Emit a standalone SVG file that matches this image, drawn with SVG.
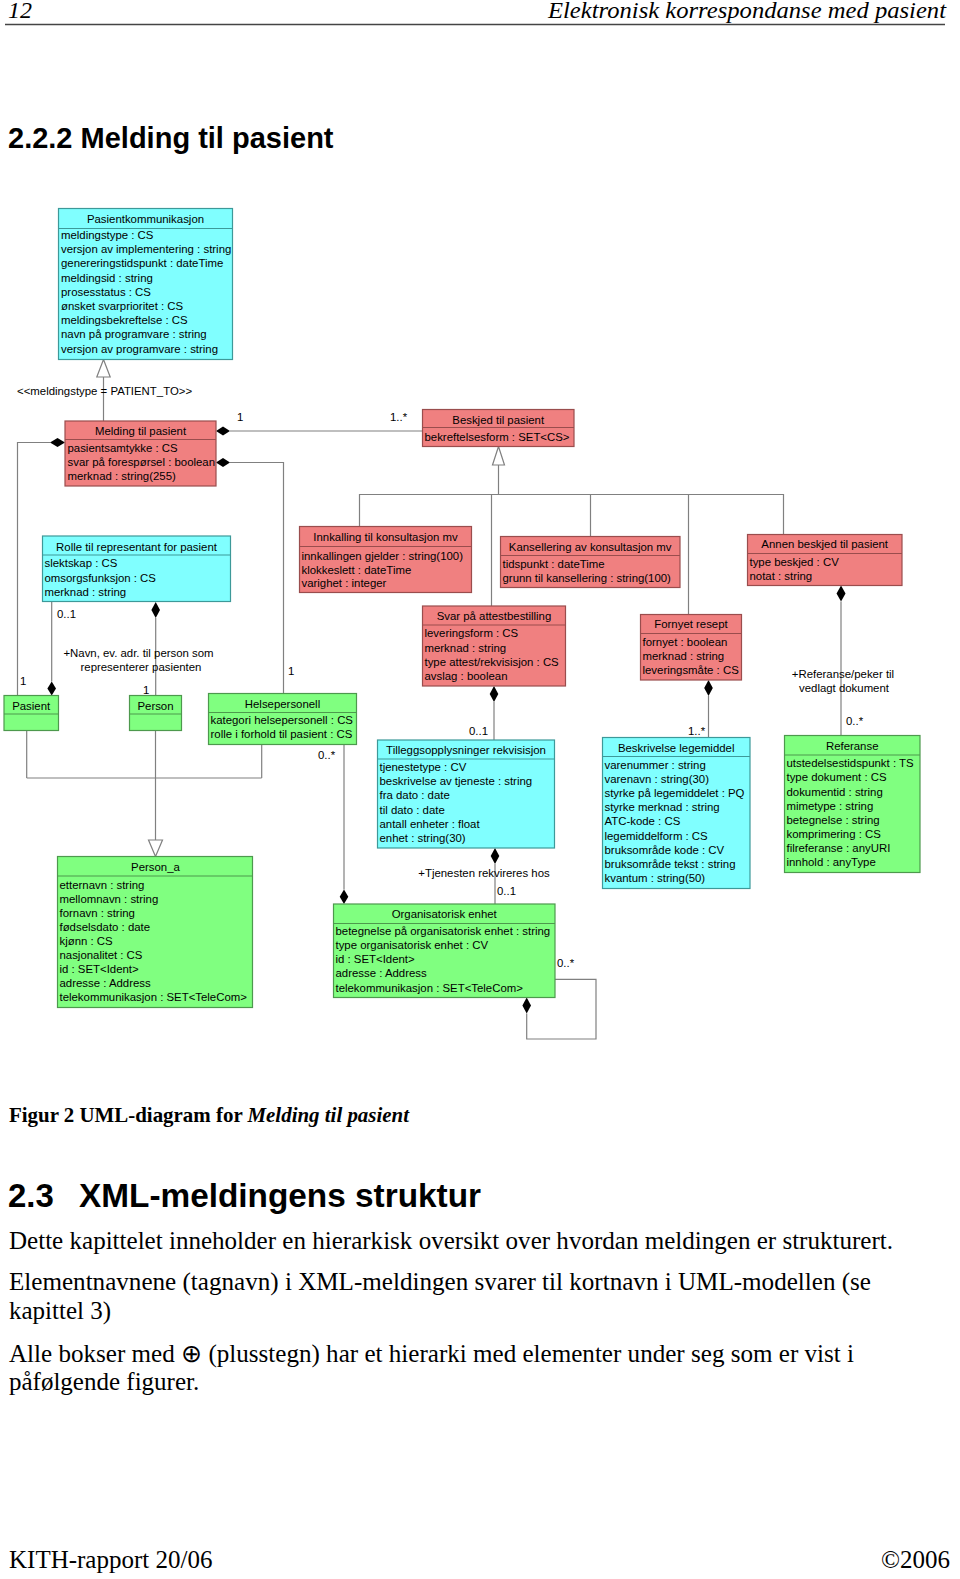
<svg xmlns="http://www.w3.org/2000/svg" width="960" height="1579" viewBox="0 0 960 1579">
<style>
.t{font-family:"Liberation Sans",Arial,sans-serif;font-size:11.4px;fill:#000}
.h{text-anchor:middle}
.red rect{fill:#F08080;stroke:#9a4d4d;stroke-width:1.2}
.cyan rect{fill:#80FFFF;stroke:#3d9999;stroke-width:1.2}
.green rect{fill:#80FF80;stroke:#4d994d;stroke-width:1.2}
.red line{stroke:#9a4d4d;stroke-width:1}
.cyan line{stroke:#3d9999;stroke-width:1}
.green line{stroke:#4d994d;stroke-width:1}
.c{fill:none;stroke:#808080;stroke-width:1.2}
.d{fill:#000;stroke:none}
.g{fill:#fff;stroke:#808080;stroke-width:1.2}
.serif{font-family:"Liberation Serif","Times New Roman",serif;fill:#000}
.sans{font-family:"Liberation Sans",Arial,sans-serif;font-weight:bold;fill:#000}
</style>

<!-- page header -->
<g id="page-header">
<text class="serif" x="8" y="18" font-size="24" font-style="italic">12</text>
<text class="serif" x="946" y="18" font-size="24" font-style="italic" text-anchor="end" textLength="398" lengthAdjust="spacingAndGlyphs">Elektronisk korrespondanse med pasient</text>
<line x1="5" y1="24.5" x2="945" y2="24.5" stroke="#444" stroke-width="1.5"/>
<text class="sans" x="8" y="148" font-size="29">2.2.2 Melding til pasient</text>
</g>

<!-- connectors -->
<g id="connectors">
<!-- generalization Melding -> Pasientkommunikasjon -->
<line class="c" x1="103.5" y1="421" x2="103.5" y2="377"/>
<polygon class="g" points="103.5,359.5 96.8,377 110.2,377"/>
<text class="t" x="17" y="395">&lt;&lt;meldingstype = PATIENT_TO&gt;&gt;</text>
<!-- Melding -> Beskjed -->
<line class="c" x1="230" y1="431" x2="422.5" y2="431"/>
<polygon class="d" points="216,431 223,426.5 230,431 223,435.5"/>
<text class="t" x="237" y="421">1</text>
<text class="t" x="390" y="421">1..*</text>
<!-- Melding -> Pasient -->
<polyline class="c" points="50,442.5 17.5,442.5 17.5,695.5"/>
<polygon class="d" points="65,442.5 57.5,438 50,442.5 57.5,447"/>
<text class="t" x="20" y="685">1</text>
<!-- Melding -> Helsepersonell -->
<polyline class="c" points="230,462.5 283.5,462.5 283.5,693.5"/>
<polygon class="d" points="216,462.5 223,458 230,462.5 223,467"/>
<text class="t" x="288" y="675">1</text>
<!-- generalization Beskjed subclasses -->
<line class="c" x1="498.5" y1="465" x2="498.5" y2="494.5"/>
<polygon class="g" points="498.5,446.5 492.5,465 504.5,465"/>
<polyline class="c" points="359.5,526.5 359.5,494.5 783.5,494.5 783.5,534.5"/>
<line class="c" x1="491.5" y1="494.5" x2="491.5" y2="606"/>
<line class="c" x1="590.5" y1="494.5" x2="590.5" y2="536.5"/>
<line class="c" x1="688.5" y1="494.5" x2="688.5" y2="614.5"/>
<!-- Annen -> Referanse -->
<line class="c" x1="841" y1="601.5" x2="841" y2="735.5"/>
<polygon class="d" points="841,585.5 845.5,593.5 841,601.5 836.5,593.5"/>
<text class="t h" x="843" y="678">+Referanse/peker til</text>
<text class="t h" x="844" y="692">vedlagt dokument</text>
<text class="t" x="846" y="725">0..*</text>
<!-- Rolle -> Pasient -->
<line class="c" x1="51.7" y1="601.5" x2="51.7" y2="681.5"/>
<polygon class="d" points="51.7,681.5 56,688.5 51.7,695.5 47.4,688.5"/>
<text class="t" x="57" y="618">0..1</text>
<!-- Rolle -> Person -->
<line class="c" x1="155.7" y1="618" x2="155.7" y2="695.5"/>
<polygon class="d" points="155.7,602 160,610 155.7,618 151.4,610"/>
<text class="t" x="143" y="694">1</text>
<text class="t h" x="138.5" y="657">+Navn, ev. adr. til person som</text>
<text class="t h" x="141" y="671">representerer pasienten</text>
<!-- Pasient/Person/Helsepersonell -> Person_a -->
<line class="c" x1="26.7" y1="730.5" x2="26.7" y2="778"/>
<line class="c" x1="155.5" y1="730.5" x2="155.5" y2="840"/>
<line class="c" x1="261.7" y1="744.5" x2="261.7" y2="778"/>
<line class="c" x1="26.7" y1="778" x2="261.7" y2="778"/>
<polygon class="g" points="155.5,856.5 148.5,840 162.5,840"/>
<!-- Helsepersonell -> Organisatorisk enhet -->
<line class="c" x1="344" y1="744.5" x2="344" y2="889.5"/>
<polygon class="d" points="344,889.5 348.3,896.7 344,904 339.7,896.7"/>
<text class="t" x="318" y="759">0..*</text>
<!-- Svar -> Tillegg -->
<line class="c" x1="494" y1="702" x2="494" y2="740"/>
<polygon class="d" points="494,686 498.3,694 494,702 489.7,694"/>
<text class="t" x="469" y="735">0..1</text>
<!-- Tillegg -> Organisatorisk enhet -->
<line class="c" x1="495" y1="864" x2="495" y2="904"/>
<polygon class="d" points="495,848 499.3,856 495,864 490.7,856"/>
<text class="t h" x="484" y="877">+Tjenesten rekvireres hos</text>
<text class="t" x="497" y="895">0..1</text>
<!-- Org self -->
<polyline class="c" points="526.7,1013.5 526.7,1039 596,1039 596,979.3 555,979.3"/>
<polygon class="d" points="526.7,997.5 531,1005.5 526.7,1013.5 522.4,1005.5"/>
<text class="t" x="557" y="967">0..*</text>
<!-- Fornyet -> Beskrivelse -->
<line class="c" x1="708.5" y1="696" x2="708.5" y2="737.5"/>
<polygon class="d" points="708.5,680 712.8,688 708.5,696 704.2,688"/>
<text class="t" x="688" y="735">1..*</text>
</g>

<!-- nodes -->
<g id="pasientkommunikasjon" class="cyan">
<rect x="58.5" y="208.5" width="174" height="151"/>
<line x1="58.5" y1="228.5" x2="232.5" y2="228.5"/>
<text class="t h" x="145.5" y="223">Pasientkommunikasjon</text>
<text class="t" x="61" y="239">meldingstype : CS</text>
<text class="t" x="61" y="253.2">versjon av implementering : string</text>
<text class="t" x="61" y="267.4">genereringstidspunkt : dateTime</text>
<text class="t" x="61" y="281.6">meldingsid : string</text>
<text class="t" x="61" y="295.8">prosesstatus : CS</text>
<text class="t" x="61" y="310">ønsket svarprioritet : CS</text>
<text class="t" x="61" y="324.2">meldingsbekreftelse : CS</text>
<text class="t" x="61" y="338.4">navn på programvare : string</text>
<text class="t" x="61" y="352.6">versjon av programvare : string</text>
</g>

<g id="melding-til-pasient" class="red">
<rect x="65" y="421" width="151" height="65"/>
<line x1="65" y1="439.5" x2="216" y2="439.5"/>
<text class="t h" x="140.5" y="435">Melding til pasient</text>
<text class="t" x="67.5" y="452.3">pasientsamtykke : CS</text>
<text class="t" x="67.5" y="466.4">svar på forespørsel : boolean</text>
<text class="t" x="67.5" y="480.3">merknad : string(255)</text>
</g>

<g id="beskjed-til-pasient" class="red">
<rect x="422.5" y="409.5" width="151.5" height="37"/>
<line x1="422.5" y1="427.5" x2="574" y2="427.5"/>
<text class="t h" x="498.2" y="423.5">Beskjed til pasient</text>
<text class="t" x="424.5" y="440.5">bekreftelsesform : SET&lt;CS&gt;</text>
</g>

<g id="innkalling" class="red">
<rect x="299.5" y="526.5" width="172" height="66"/>
<line x1="299.5" y1="546.5" x2="471.5" y2="546.5"/>
<text class="t h" x="385.5" y="541.3">Innkalling til konsultasjon mv</text>
<text class="t" x="301.5" y="559.7">innkallingen gjelder : string(100)</text>
<text class="t" x="301.5" y="573.5">klokkeslett : dateTime</text>
<text class="t" x="301.5" y="587">varighet : integer</text>
</g>

<g id="kansellering" class="red">
<rect x="500.5" y="536.5" width="179.5" height="51"/>
<line x1="500.5" y1="555.5" x2="680" y2="555.5"/>
<text class="t h" x="590.2" y="550.7">Kansellering av konsultasjon mv</text>
<text class="t" x="502.5" y="567.5">tidspunkt : dateTime</text>
<text class="t" x="502.5" y="581.8">grunn til kansellering : string(100)</text>
</g>

<g id="annen-beskjed" class="red">
<rect x="747.5" y="534.5" width="154.5" height="51"/>
<line x1="747.5" y1="553.5" x2="902" y2="553.5"/>
<text class="t h" x="824.7" y="548">Annen beskjed til pasient</text>
<text class="t" x="749.5" y="565.7">type beskjed : CV</text>
<text class="t" x="749.5" y="580">notat : string</text>
</g>

<g id="rolle" class="cyan">
<rect x="42.5" y="536" width="188" height="65.5"/>
<line x1="42.5" y1="555" x2="230.5" y2="555"/>
<text class="t h" x="136.5" y="550.7">Rolle til representant for pasient</text>
<text class="t" x="44.5" y="567.3">slektskap : CS</text>
<text class="t" x="44.5" y="581.7">omsorgsfunksjon : CS</text>
<text class="t" x="44.5" y="595.7">merknad : string</text>
</g>

<g id="svar-attest" class="red">
<rect x="422.5" y="606" width="143" height="80"/>
<line x1="422.5" y1="625" x2="565.5" y2="625"/>
<text class="t h" x="494" y="620">Svar på attestbestilling</text>
<text class="t" x="424.5" y="637.3">leveringsform : CS</text>
<text class="t" x="424.5" y="651.5">merknad : string</text>
<text class="t" x="424.5" y="665.7">type attest/rekvisisjon : CS</text>
<text class="t" x="424.5" y="680">avslag : boolean</text>
</g>

<g id="fornyet-resept" class="red">
<rect x="640.5" y="614.5" width="101" height="65.5"/>
<line x1="640.5" y1="633.5" x2="741.5" y2="633.5"/>
<text class="t h" x="691" y="628.3">Fornyet resept</text>
<text class="t" x="642.5" y="645.7">fornyet : boolean</text>
<text class="t" x="642.5" y="659.8">merknad : string</text>
<text class="t" x="642.5" y="674">leveringsmåte : CS</text>
</g>

<g id="pasient" class="green">
<rect x="4" y="695.5" width="54.5" height="35"/>
<line x1="4" y1="714" x2="58.5" y2="714"/>
<text class="t h" x="31.2" y="709.7">Pasient</text>
</g>

<g id="person" class="green">
<rect x="129.5" y="695.5" width="52" height="35"/>
<line x1="129.5" y1="714" x2="181.5" y2="714"/>
<text class="t h" x="155.5" y="709.7">Person</text>
</g>

<g id="helsepersonell" class="green">
<rect x="208.5" y="693.5" width="148" height="51"/>
<line x1="208.5" y1="712.5" x2="356.5" y2="712.5"/>
<text class="t h" x="282.5" y="707.5">Helsepersonell</text>
<text class="t" x="210.5" y="724">kategori helsepersonell : CS</text>
<text class="t" x="210.5" y="738">rolle i forhold til pasient : CS</text>
</g>

<g id="tillegg" class="cyan">
<rect x="377.5" y="740" width="177" height="108"/>
<line x1="377.5" y1="759" x2="554.5" y2="759"/>
<text class="t h" x="466" y="754">Tilleggsopplysninger rekvisisjon</text>
<text class="t" x="379.5" y="770.7">tjenestetype : CV</text>
<text class="t" x="379.5" y="785">beskrivelse av tjeneste : string</text>
<text class="t" x="379.5" y="799.3">fra dato : date</text>
<text class="t" x="379.5" y="813.6">til dato : date</text>
<text class="t" x="379.5" y="827.9">antall enheter : float</text>
<text class="t" x="379.5" y="842.2">enhet : string(30)</text>
</g>

<g id="beskrivelse-legemiddel" class="cyan">
<rect x="602.5" y="737.5" width="147.5" height="151"/>
<line x1="602.5" y1="756.5" x2="750" y2="756.5"/>
<text class="t h" x="676.2" y="751.7">Beskrivelse legemiddel</text>
<text class="t" x="604.5" y="769">varenummer : string</text>
<text class="t" x="604.5" y="783.1">varenavn : string(30)</text>
<text class="t" x="604.5" y="797.2">styrke på legemiddelet : PQ</text>
<text class="t" x="604.5" y="811.3">styrke merknad : string</text>
<text class="t" x="604.5" y="825.4">ATC-kode : CS</text>
<text class="t" x="604.5" y="839.5">legemiddelform : CS</text>
<text class="t" x="604.5" y="853.6">bruksområde kode : CV</text>
<text class="t" x="604.5" y="867.7">bruksområde tekst : string</text>
<text class="t" x="604.5" y="881.8">kvantum : string(50)</text>
</g>

<g id="referanse" class="green">
<rect x="784.5" y="735.5" width="135.5" height="137"/>
<line x1="784.5" y1="755" x2="920" y2="755"/>
<text class="t h" x="852.2" y="749.7">Referanse</text>
<text class="t" x="786.5" y="767.3">utstedelsestidspunkt : TS</text>
<text class="t" x="786.5" y="781.4">type dokument : CS</text>
<text class="t" x="786.5" y="795.6">dokumentid : string</text>
<text class="t" x="786.5" y="809.7">mimetype : string</text>
<text class="t" x="786.5" y="823.9">betegnelse : string</text>
<text class="t" x="786.5" y="838">komprimering : CS</text>
<text class="t" x="786.5" y="852.2">filreferanse : anyURI</text>
<text class="t" x="786.5" y="866.3">innhold : anyType</text>
</g>

<g id="person-a" class="green">
<rect x="57.5" y="856.5" width="195" height="151"/>
<line x1="57.5" y1="876" x2="252.5" y2="876"/>
<text class="t h" x="155.5" y="871.3">Person_a</text>
<text class="t" x="59.5" y="889">etternavn : string</text>
<text class="t" x="59.5" y="903">mellomnavn : string</text>
<text class="t" x="59.5" y="917.1">fornavn : string</text>
<text class="t" x="59.5" y="931.1">fødselsdato : date</text>
<text class="t" x="59.5" y="945.2">kjønn : CS</text>
<text class="t" x="59.5" y="959.2">nasjonalitet : CS</text>
<text class="t" x="59.5" y="973.3">id : SET&lt;Ident&gt;</text>
<text class="t" x="59.5" y="987.3">adresse : Address</text>
<text class="t" x="59.5" y="1001.4">telekommunikasjon : SET&lt;TeleCom&gt;</text>
</g>

<g id="organisatorisk-enhet" class="green">
<rect x="333.5" y="904" width="221.5" height="93.5"/>
<line x1="333.5" y1="923.5" x2="555" y2="923.5"/>
<text class="t h" x="444.2" y="918">Organisatorisk enhet</text>
<text class="t" x="335.5" y="934.7">betegnelse på organisatorisk enhet : string</text>
<text class="t" x="335.5" y="948.9">type organisatorisk enhet : CV</text>
<text class="t" x="335.5" y="963.1">id : SET&lt;Ident&gt;</text>
<text class="t" x="335.5" y="977.3">adresse : Address</text>
<text class="t" x="335.5" y="991.5">telekommunikasjon : SET&lt;TeleCom&gt;</text>
</g>

<!-- page body -->
<g id="page-body">
<text class="serif" x="9" y="1122" font-size="21" font-weight="bold" textLength="400" lengthAdjust="spacingAndGlyphs">Figur 2 UML-diagram for <tspan font-style="italic">Melding til pasient</tspan></text>
<text class="sans" x="8" y="1207" font-size="33">2.3</text>
<text class="sans" x="79" y="1207" font-size="33" textLength="402" lengthAdjust="spacingAndGlyphs">XML-meldingens struktur</text>
<text class="serif" x="9" y="1249" font-size="25" textLength="884" lengthAdjust="spacingAndGlyphs">Dette kapittelet inneholder en hierarkisk oversikt over hvordan meldingen er strukturert.</text>
<text class="serif" x="9" y="1290" font-size="25" textLength="862" lengthAdjust="spacingAndGlyphs">Elementnavnene (tagnavn) i XML-meldingen svarer til kortnavn i UML-modellen (se</text>
<text class="serif" x="9" y="1319" font-size="25">kapittel 3)</text>
<text class="serif" x="9" y="1362" font-size="25" textLength="845" lengthAdjust="spacingAndGlyphs">Alle bokser med ⊕ (plusstegn) har et hierarki med elementer under seg som er vist i</text>
<text class="serif" x="9" y="1390" font-size="25">påfølgende figurer.</text>
<text class="serif" x="9" y="1568" font-size="25">KITH-rapport 20/06</text>
<text class="serif" x="950" y="1568" font-size="25" text-anchor="end">©2006</text>
</g>
</svg>
